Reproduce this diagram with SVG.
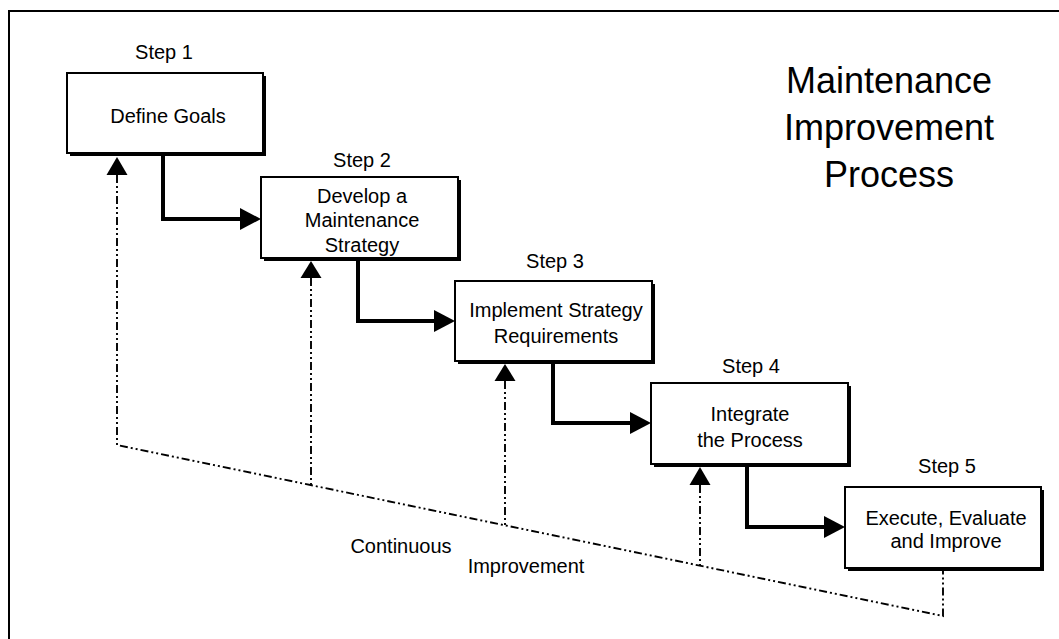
<svg xmlns="http://www.w3.org/2000/svg" width="1059" height="639" viewBox="0 0 1059 639">
<style>
text{font-family:"Liberation Sans",Arial,sans-serif;fill:#000;text-anchor:middle}
.lbl{font-size:20px}
.title{font-size:36px}
.box{fill:#fff;stroke:#000;stroke-width:2}
.shadow{fill:#000}
.solid{fill:none;stroke:#000;stroke-width:4}
.dd{fill:none;stroke:#000;stroke-width:1.9;stroke-dasharray:8 3 2 3 2 3}
.ah{fill:#000}
</style>
<rect width="1059" height="639" fill="#fff"/>
<path d="M9 639 V11 H1059" fill="none" stroke="#000" stroke-width="2"/>
<g id="title">
<text class="title" x="889" y="93">Maintenance</text>
<text class="title" x="889" y="140">Improvement</text>
<text class="title" x="889" y="187">Process</text>
</g>
<g id="connectors">
<path class="solid" d="M163 155 V219 H242"/>
<polygon class="ah" points="240,208 261,219 240,230"/>
<path class="solid" d="M358 259 V321 H436"/>
<polygon class="ah" points="434,310 455,321 434,332"/>
<path class="solid" d="M553 362 V423 H632"/>
<polygon class="ah" points="630,412 651,423 630,434"/>
<path class="solid" d="M747 466 V527 H826"/>
<polygon class="ah" points="824,516 845,527 824,538"/>
<path class="dd" d="M117 175 V445 L943 616 V570"/>
<polygon class="ah" points="106.5,175 117,157 127.5,175"/>
<path class="dd" d="M311 278 V485"/>
<polygon class="ah" points="300.5,278 311,261 321.5,278"/>
<path class="dd" d="M505 381 V525"/>
<polygon class="ah" points="494.5,381 505,364 515.5,381"/>
<path class="dd" d="M700 485 V566"/>
<polygon class="ah" points="689.5,485 700,467 710.5,485"/>
</g>
<g id="step1">
<text class="lbl" x="164" y="59">Step 1</text>
<rect class="shadow" x="70" y="76" width="196" height="80"/>
<rect class="box" x="67" y="73" width="196" height="80"/>
<text class="lbl" x="168" y="123">Define Goals</text>
</g>
<g id="step2">
<text class="lbl" x="362" y="167">Step 2</text>
<rect class="shadow" x="264" y="180" width="197" height="81"/>
<rect class="box" x="261" y="177" width="197" height="81"/>
<text class="lbl" x="362" y="203">Develop a</text>
<text class="lbl" x="362" y="227">Maintenance</text>
<text class="lbl" x="362" y="252">Strategy</text>
</g>
<g id="step3">
<text class="lbl" x="555" y="268">Step 3</text>
<rect class="shadow" x="458" y="284" width="197" height="80"/>
<rect class="box" x="455" y="281" width="197" height="80"/>
<text class="lbl" x="556" y="317">Implement Strategy</text>
<text class="lbl" x="556" y="343">Requirements</text>
</g>
<g id="step4">
<text class="lbl" x="751" y="373">Step 4</text>
<rect class="shadow" x="654" y="386" width="197" height="81"/>
<rect class="box" x="651" y="383" width="197" height="81"/>
<text class="lbl" x="750" y="421">Integrate</text>
<text class="lbl" x="750" y="447">the Process</text>
</g>
<g id="step5">
<text class="lbl" x="947" y="473">Step 5</text>
<rect class="shadow" x="848" y="490" width="196" height="81"/>
<rect class="box" x="845" y="487" width="196" height="81"/>
<text class="lbl" x="946" y="525">Execute, Evaluate</text>
<text class="lbl" x="946" y="548">and Improve</text>
</g>
<g id="ci-label">
<text class="lbl" x="401" y="553">Continuous</text>
<text class="lbl" x="526" y="573">Improvement</text>
</g>
</svg>
